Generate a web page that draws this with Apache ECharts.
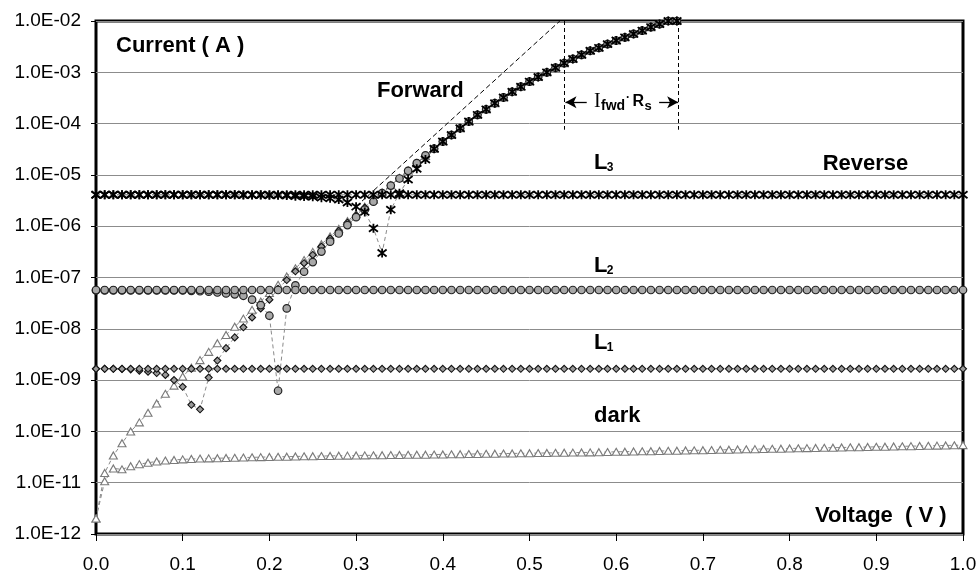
<!DOCTYPE html>
<html><head><meta charset="utf-8">
<script src="https://cdn.jsdelivr.net/npm/echarts@6/dist/echarts.min.js"></script>
<style>html,body{margin:0;padding:0;background:#fff}#c{width:978px;height:572px}</style>
</head><body><div id="c"></div>
<script>
// ---------- data ----------
const voltage = [
0.00,0.01,0.02,0.03,0.04,0.05,0.06,0.07,0.08,0.09,
0.10,0.11,0.12,0.13,0.14,0.15,0.16,0.17,0.18,0.19,
0.20,0.21,0.22,0.23,0.24,0.25,0.26,0.27,0.28,0.29,
0.30,0.31,0.32,0.33,0.34,0.35,0.36,0.37,0.38,0.39,
0.40,0.41,0.42,0.43,0.44,0.45,0.46,0.47,0.48,0.49,
0.50,0.51,0.52,0.53,0.54,0.55,0.56,0.57,0.58,0.59,
0.60,0.61,0.62,0.63,0.64,0.65,0.66,0.67,0.68,0.69,
0.70,0.71,0.72,0.73,0.74,0.75,0.76,0.77,0.78,0.79,
0.80,0.81,0.82,0.83,0.84,0.85,0.86,0.87,0.88,0.89,
0.90,0.91,0.92,0.93,0.94,0.95,0.96,0.97,0.98,0.99,1.00];

// forward currents, 0.00 .. 0.38 V
const darkFwdLow = [
2.0e-12,1.55e-11,3.4e-11,5.9e-11,1.0e-10,1.5e-10,2.3e-10,3.5e-10,5.4e-10,7.8e-10,
1.17e-9,1.74e-9,2.45e-9,3.55e-9,5.25e-9,7.6e-9,1.1e-8,1.58e-8,2.34e-8,3.4e-8,
5.0e-8,7.2e-8,1.05e-7,1.51e-7,2.19e-7,3.16e-7,4.47e-7,6.3e-7,8.9e-7,1.26e-6,
1.74e-6,2.4e-6,3.3e-6,4.57e-6,6.3e-6,8.7e-6,1.23e-5,1.7e-5,2.34e-5];
const l1FwdLow = [
1.66e-9,1.66e-9,1.66e-9,1.65e-9,1.62e-9,1.53e-9,1.46e-9,1.37e-9,1.26e-9,1.0e-9,
7.4e-10,3.3e-10,2.7e-10,1.12e-9,2.4e-9,4.2e-9,6.8e-9,1.07e-8,1.66e-8,2.5e-8,
3.7e-8,6.0e-8,8.9e-8,1.32e-7,1.9e-7,2.75e-7,4.0e-7,5.75e-7,8.1e-7,1.17e-6,
1.62e-6,2.3e-6,3.16e-6,4.4e-6,6.2e-6,8.5e-6,1.2e-5,1.66e-5,2.3e-5];
const l2FwdLow = [
5.6e-8,5.6e-8,5.6e-8,5.6e-8,5.6e-8,5.6e-8,5.6e-8,5.6e-8,5.6e-8,5.6e-8,
5.6e-8,5.5e-8,5.4e-8,5.3e-8,5.1e-8,4.9e-8,4.7e-8,4.4e-8,3.7e-8,2.9e-8,
1.8e-8,6.2e-10,2.5e-8,7.0e-8,1.3e-7,2.0e-7,3.2e-7,5.0e-7,7.2e-7,1.05e-6,
1.5e-6,2.1e-6,3.0e-6,4.4e-6,6.2e-6,8.5e-6,1.2e-5,1.7e-5,2.4e-5];
const l3FwdLow = [
4.1e-6,4.1e-6,4.1e-6,4.1e-6,4.1e-6,4.1e-6,4.1e-6,4.1e-6,4.1e-6,4.1e-6,
4.1e-6,4.1e-6,4.1e-6,4.1e-6,4.1e-6,4.1e-6,4.1e-6,4.05e-6,4.05e-6,4.05e-6,
4.0e-6,4.0e-6,3.95e-6,3.85e-6,3.8e-6,3.75e-6,3.6e-6,3.5e-6,3.3e-6,2.9e-6,
2.4e-6,1.9e-6,9.1e-7,3.0e-7,2.1e-6,4.4e-6,8.1e-6,1.32e-5,2.0e-5];
// shared forward currents, 0.39 .. 0.67 V (all curves merge)
const fwdHigh = [
3.24e-5,4.47e-5,6.0e-5,8.1e-5,1.1e-4,1.48e-4,1.9e-4,2.5e-4,3.24e-4,4.17e-4,
5.25e-4,6.6e-4,8.1e-4,1.0e-3,1.23e-3,1.51e-3,1.82e-3,2.19e-3,2.63e-3,3.0e-3,
3.55e-3,4.17e-3,4.8e-3,5.6e-3,6.5e-3,7.6e-3,8.7e-3,1.0e-2,1.0e-2];

// reverse currents, 0.00 .. 1.00 V
const darkRev = [
2.0e-12,1.07e-11,1.9e-11,1.82e-11,2.1e-11,2.3e-11,2.45e-11,2.6e-11,2.7e-11,2.78e-11,
2.85e-11,2.9e-11,2.95e-11,2.98e-11,3.0e-11,3.03e-11,3.06e-11,3.09e-11,3.12e-11,3.15e-11,
3.18e-11,3.2e-11,3.22e-11,3.25e-11,3.27e-11,3.29e-11,3.31e-11,3.33e-11,3.35e-11,3.37e-11,
3.39e-11,3.41e-11,3.42e-11,3.44e-11,3.46e-11,3.47e-11,3.49e-11,3.51e-11,3.52e-11,3.54e-11,
3.56e-11,3.58e-11,3.6e-11,3.62e-11,3.64e-11,3.66e-11,3.68e-11,3.7e-11,3.72e-11,3.74e-11,
3.76e-11,3.78e-11,3.8e-11,3.82e-11,3.84e-11,3.86e-11,3.88e-11,3.9e-11,3.93e-11,3.96e-11,
4.0e-11,4.03e-11,4.06e-11,4.09e-11,4.12e-11,4.15e-11,4.18e-11,4.21e-11,4.24e-11,4.27e-11,
4.3e-11,4.33e-11,4.37e-11,4.4e-11,4.44e-11,4.47e-11,4.51e-11,4.54e-11,4.58e-11,4.61e-11,
4.65e-11,4.68e-11,4.72e-11,4.75e-11,4.79e-11,4.82e-11,4.86e-11,4.89e-11,4.93e-11,4.96e-11,
5.0e-11,5.04e-11,5.08e-11,5.12e-11,5.16e-11,5.2e-11,5.24e-11,5.28e-11,5.32e-11,5.36e-11,5.4e-11];
const l1Rev = [
1.66e-9,1.66e-9,1.66e-9,1.66e-9,1.66e-9,1.66e-9,1.66e-9,1.66e-9,1.66e-9,1.66e-9,
1.66e-9,1.66e-9,1.66e-9,1.66e-9,1.66e-9,1.66e-9,1.66e-9,1.66e-9,1.66e-9,1.66e-9,
1.66e-9,1.66e-9,1.66e-9,1.66e-9,1.66e-9,1.66e-9,1.66e-9,1.66e-9,1.66e-9,1.66e-9,
1.66e-9,1.66e-9,1.66e-9,1.66e-9,1.66e-9,1.66e-9,1.66e-9,1.66e-9,1.66e-9,1.66e-9,
1.66e-9,1.66e-9,1.66e-9,1.66e-9,1.66e-9,1.66e-9,1.66e-9,1.66e-9,1.66e-9,1.66e-9,
1.66e-9,1.66e-9,1.66e-9,1.66e-9,1.66e-9,1.66e-9,1.66e-9,1.66e-9,1.66e-9,1.66e-9,
1.66e-9,1.66e-9,1.66e-9,1.66e-9,1.66e-9,1.66e-9,1.66e-9,1.66e-9,1.66e-9,1.66e-9,
1.66e-9,1.66e-9,1.66e-9,1.66e-9,1.66e-9,1.66e-9,1.66e-9,1.66e-9,1.66e-9,1.66e-9,
1.66e-9,1.66e-9,1.66e-9,1.66e-9,1.66e-9,1.66e-9,1.66e-9,1.66e-9,1.66e-9,1.66e-9,
1.66e-9,1.66e-9,1.66e-9,1.66e-9,1.66e-9,1.66e-9,1.66e-9,1.66e-9,1.66e-9,1.66e-9,1.66e-9];
const l2Rev = [
5.7e-8,5.7e-8,5.7e-8,5.7e-8,5.7e-8,5.7e-8,5.7e-8,5.7e-8,5.7e-8,5.7e-8,
5.7e-8,5.7e-8,5.7e-8,5.7e-8,5.7e-8,5.7e-8,5.7e-8,5.7e-8,5.7e-8,5.7e-8,
5.7e-8,5.7e-8,5.7e-8,5.7e-8,5.7e-8,5.7e-8,5.7e-8,5.7e-8,5.7e-8,5.7e-8,
5.7e-8,5.7e-8,5.7e-8,5.7e-8,5.7e-8,5.7e-8,5.7e-8,5.7e-8,5.7e-8,5.7e-8,
5.7e-8,5.7e-8,5.7e-8,5.7e-8,5.7e-8,5.7e-8,5.7e-8,5.7e-8,5.7e-8,5.7e-8,
5.7e-8,5.7e-8,5.7e-8,5.7e-8,5.7e-8,5.7e-8,5.7e-8,5.7e-8,5.7e-8,5.7e-8,
5.7e-8,5.7e-8,5.7e-8,5.7e-8,5.7e-8,5.7e-8,5.7e-8,5.7e-8,5.7e-8,5.7e-8,
5.7e-8,5.7e-8,5.7e-8,5.7e-8,5.7e-8,5.7e-8,5.7e-8,5.7e-8,5.7e-8,5.7e-8,
5.7e-8,5.7e-8,5.7e-8,5.7e-8,5.7e-8,5.7e-8,5.7e-8,5.7e-8,5.7e-8,5.7e-8,
5.7e-8,5.7e-8,5.7e-8,5.7e-8,5.7e-8,5.7e-8,5.7e-8,5.7e-8,5.7e-8,5.7e-8,5.7e-8];
const l3Rev = [
4.1e-6,4.1e-6,4.1e-6,4.1e-6,4.1e-6,4.1e-6,4.1e-6,4.1e-6,4.1e-6,4.1e-6,
4.1e-6,4.1e-6,4.1e-6,4.1e-6,4.1e-6,4.1e-6,4.1e-6,4.1e-6,4.1e-6,4.1e-6,
4.1e-6,4.1e-6,4.1e-6,4.1e-6,4.1e-6,4.1e-6,4.1e-6,4.1e-6,4.1e-6,4.1e-6,
4.1e-6,4.1e-6,4.1e-6,4.1e-6,4.1e-6,4.1e-6,4.1e-6,4.1e-6,4.1e-6,4.1e-6,
4.1e-6,4.1e-6,4.1e-6,4.1e-6,4.1e-6,4.1e-6,4.1e-6,4.1e-6,4.1e-6,4.1e-6,
4.1e-6,4.1e-6,4.1e-6,4.1e-6,4.1e-6,4.1e-6,4.1e-6,4.1e-6,4.1e-6,4.1e-6,
4.1e-6,4.1e-6,4.1e-6,4.1e-6,4.1e-6,4.1e-6,4.1e-6,4.1e-6,4.1e-6,4.1e-6,
4.1e-6,4.1e-6,4.1e-6,4.1e-6,4.1e-6,4.1e-6,4.1e-6,4.1e-6,4.1e-6,4.1e-6,
4.1e-6,4.1e-6,4.1e-6,4.1e-6,4.1e-6,4.1e-6,4.1e-6,4.1e-6,4.1e-6,4.1e-6,
4.1e-6,4.1e-6,4.1e-6,4.1e-6,4.1e-6,4.1e-6,4.1e-6,4.1e-6,4.1e-6,4.1e-6,4.1e-6];

// exponential fit line (voltage, current)
const fitLine = [[0.30, 2.42e-6], [0.535, 1.0e-2]];
// I_fwd*Rs construction: vertical dashed lines and arrows
const rsLinesV = [0.540, 0.672];
const rsLineRange = [1.0e-2, 7.6e-5];
const rsArrows = [[0.566, 0.5415], [0.6495, 0.6715]];
const rsArrowI = 2.6e-4;

// axis ranges / ticks
const xMin = 0, xMax = 1, xStep = 0.1;
const yMin = 1e-12, yMax = 1e-2;

// annotation anchors (voltage, current)
const labels = [
  {t:'Current ( A )', v:0.0231, i:3.26e-3},
  {t:'Forward', v:0.3241, i:4.31e-4},
  {t:'Reverse', v:0.8382, i:1.60e-5},
  {t:'dark', v:0.5744, i:2.04e-10},
  {t:'Voltage  ( V )', v:0.8293, i:2.24e-12}
];
const levelLabels = [
  {t:'L', s:'3', v:0.5744, i:1.71e-5},
  {t:'L', s:'2', v:0.5744, i:1.71e-7},
  {t:'L', s:'1', v:0.5744, i:5.28e-9}
];
const rsLabelAnchor = {v:0.5744, i:2.64e-4};

// ---------- build ----------
const fwd = (low) => low.concat(fwdHigh).map((y, k) => [voltage[k], y]);
const rev = (arr) => arr.map((y, k) => [voltage[k], y]);

const SANS = '"Liberation Sans", Arial, Helvetica, sans-serif';
const dashLine = {color:'#8a8a8a', width:1, type:[4,3]};
const STAR = 'path://M0,0L10,10M10,0L0,10M5,-1.5L5,11.5';

function lineSeries(name, data, sym, size, item) {
  return {
    name, type:'line', data, symbol:sym, symbolSize:size, showAllSymbol:true,
    lineStyle:dashLine, itemStyle:item, silent:true, animation:false,
    emphasis:{disabled:true}, z:3
  };
}

const triStyle = {color:'#ffffff', borderColor:'#7a7a7a', borderWidth:1.1};
const diaStyle = {color:'#9a9a9a', borderColor:'#111', borderWidth:1.1};
const cirStyle = {color:'#a8a8a8', borderColor:'#222', borderWidth:1.2};
const starStyle = {color:'rgba(0,0,0,0)', borderColor:'#000', borderWidth:1.8};

const chart = echarts.init(document.getElementById('c'), null, {renderer:'canvas'});

const markData = [];
rsLinesV.forEach(v => markData.push([
  {coord:[v, rsLineRange[0]], symbol:'none', lineStyle:{type:[4,3], width:1, color:'#000'}},
  {coord:[v, rsLineRange[1]], symbol:'none'}]));
rsArrows.forEach(a => markData.push([
  {coord:[a[0], rsArrowI], symbol:'none', lineStyle:{type:'solid', width:1.3, color:'#000'}},
  {coord:[a[1], rsArrowI], symbol:'arrow', symbolSize:[9,11]}]));

chart.setOption({
  animation:false,
  backgroundColor:'#fff',
  grid:{left:96, right:15, top:21, bottom:38, show:true, borderColor:'#000', borderWidth:3,
        backgroundColor:'rgba(0,0,0,0)', outerBoundsMode:'none', containLabel:false},
  xAxis:{type:'value', min:xMin, max:xMax, interval:xStep,
    axisLine:{show:false}, splitLine:{show:false},
    axisTick:{show:true, length:7, lineStyle:{color:'#000', width:1}},
    axisLabel:{color:'#000', fontSize:19, fontFamily:SANS, margin:21,
      formatter:v => v.toFixed(1)}},
  yAxis:{type:'log', logBase:10, min:yMin, max:yMax, splitNumber:10,
    axisLine:{show:false},
    splitLine:{show:true, lineStyle:{color:'#8c8c8c', width:1}},
    minorTick:{show:false}, minorSplitLine:{show:false},
    axisTick:{show:true, length:5, lineStyle:{color:'#000', width:1}},
    axisLabel:{color:'#000', fontSize:19, fontFamily:SANS, margin:15,
      formatter:v => {
        const e = Math.round(Math.log10(v));
        return '1.0E' + (e < 0 ? '-' : '+') + String(Math.abs(e)).padStart(2,'0');
      }}},
  series:[
    {type:'line', data:fitLine, symbol:'none', silent:true, z:2,
     lineStyle:{color:'#000', width:1, type:[5,3]},
     markLine:{silent:true, label:{show:false}, symbol:'none', data:markData, animation:false}},
    lineSeries('dark fwd', fwd(darkFwdLow), 'triangle', [8,7], triStyle),
    lineSeries('dark rev', rev(darkRev), 'triangle', [8,7], triStyle),
    lineSeries('L1 fwd', fwd(l1FwdLow), 'diamond', [7,7], diaStyle),
    lineSeries('L1 rev', rev(l1Rev), 'diamond', [7,7], diaStyle),
    lineSeries('L2 fwd', fwd(l2FwdLow), 'circle', 7.5, cirStyle),
    lineSeries('L2 rev', rev(l2Rev), 'circle', 7.5, cirStyle),
    lineSeries('L3 fwd', fwd(l3FwdLow), STAR, 9, starStyle),
    lineSeries('L3 rev', rev(l3Rev), STAR, 9, starStyle)
  ]
});

// ---------- annotations ----------
const toPx = (v, i) => chart.convertToPixel({gridIndex:0}, [v, i]);
const g = [];
const txt = (x, y, text, size, weight, family) => ({
  type:'text', x, y, z:100, silent:true,
  style:{text, fill:'#000', fontSize:size, fontWeight:weight, fontFamily:family || SANS,
         align:'left', verticalAlign:'middle'}});
labels.forEach(l => { const p = toPx(l.v, l.i); g.push(txt(p[0], p[1], l.t, 22, 'bold')); });
levelLabels.forEach(l => {
  const p = toPx(l.v, l.i);
  g.push(txt(p[0], p[1], l.t, 22, 'bold'));
  g.push(txt(p[0] + 12.8, p[1] + 5, l.s, 12, 'bold'));
});
{
  const p = toPx(rsLabelAnchor.v, rsLabelAnchor.i);
  g.push(txt(p[0], p[1], 'I', 20, 'normal', '"Liberation Serif", "Times New Roman", serif'));
  g.push(txt(p[0] + 7, p[1] + 4, 'fwd', 14, 'bold'));
  g.push(txt(p[0] + 32, p[1] - 4, '\u00b7', 12, 'bold'));
  g.push(txt(p[0] + 38.5, p[1], 'R', 16, 'bold'));
  g.push(txt(p[0] + 50.5, p[1] + 4.5, 's', 13, 'bold'));
}
chart.setOption({graphic:g});
</script></body></html>
